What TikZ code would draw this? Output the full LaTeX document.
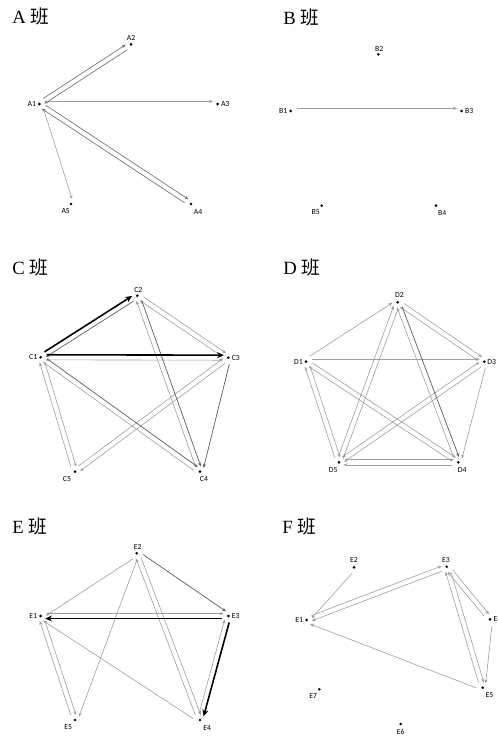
\documentclass[tikz,border=0pt]{standalone}
\usepackage{fontspec}
\setmainfont{Liberation Serif}
\newfontfamily\lblfont{Carlito}
\newfontfamily\cjkfont{Noto Sans CJK SC}
\usetikzlibrary{calc,arrows.meta}
\newcommand\eoff{1.9pt}
\newcommand\ed[3][]{\draw[ln,#1] ($(#2)!\eoff!90:(#3)$) -- ($(#3)!\eoff!-90:(#2)$);}
\newcommand\vtx[4]{\node[dot] (#1) at (#2) {}; \node[lbl] (l#1) at ($(#1)+(#3)$) {#4};}
\begin{document}
\begin{tikzpicture}[x=0.75pt,y=-0.75pt,
 dot/.style={circle,fill=black,inner sep=0pt,minimum size=2.2pt},
 lbl/.style={font={\lblfont\fontsize{5.8}{7}\selectfont},inner sep=0pt},
 ttl/.style={font={\fontsize{14}{16}\selectfont},anchor=base west,inner sep=0pt},
 ln/.style={-{Stealth[length=3pt,width=2.4pt]},shorten <=4.5pt,shorten >=3.4pt},
 lt/.style={draw=black!38,line width=0.45pt},
 md/.style={draw=black!55,line width=0.5pt},
 dk/.style={draw=black!62,line width=0.55pt},
 bk/.style={draw=black,line width=1.2pt,-{Stealth[length=5pt,width=4.5pt]}}]
\useasboundingbox (0,0) rectangle (497,737);

% titles
\node[ttl] (tA) at (12,24) {A {\cjkfont 班}};
\node[ttl] (tB) at (283,24.5) {B {\cjkfont 班}};
\node[ttl] (tC) at (12,275) {C {\cjkfont 班}};
\node[ttl] (tD) at (283,275) {D {\cjkfont 班}};
\node[ttl] (tE) at (12,533) {E {\cjkfont 班}};
\node[ttl] (tF) at (282,533) {F {\cjkfont 班}};

% ---- A ----
\vtx{A1}{39.3,104}{-7.5,0}{A1}
\vtx{A2}{131,44.3}{0,-6}{A2}
\vtx{A3}{217.7,104}{7.5,0}{A3}
\vtx{A4}{191,204}{7,7.7}{A4}
\vtx{A5}{71,204}{-5.3,7}{A5}
\ed[md]{A1}{A2}
\ed[md]{A2}{A1}
\ed[lt]{A1}{A3}
\ed[md]{A1}{A4}
\ed[md]{A4}{A1}
\ed[lt]{A1}{A5}

% ---- B ----
\vtx{B1}{290.7,111}{-7.5,0}{B1}
\vtx{B2}{378.3,54.3}{1,-5.5}{B2}
\vtx{B3}{461.7,111}{7.5,0}{B3}
\vtx{B4}{436,205.7}{6.3,7}{B4}
\vtx{B5}{321.7,205.7}{-6,6}{B5}
\ed[lt]{B1}{B3}

% ---- C ----
\vtx{C1}{40.7,357.3}{-7.5,0}{C1}
\vtx{C2}{137.3,295.7}{1,-6}{C2}
\vtx{C3}{228.3,357.7}{7.5,0}{C3}
\vtx{C4}{200,471.7}{4,7.7}{C4}
\vtx{C5}{75,471.7}{-8,7.7}{C5}
\ed[lt]{C3}{C1}
\ed[lt]{C2}{C3}
\ed[lt]{C3}{C2}
\ed[lt]{C4}{C2}
\ed[lt]{C4}{C1}
\ed[lt]{C3}{C5}
\ed[lt]{C5}{C3}
\ed[lt]{C1}{C5}
\ed[lt]{C5}{C1}
\ed[dk]{C2}{C1}
\ed[dk]{C2}{C4}
\ed[dk]{C3}{C4}
\ed[dk]{C1}{C4}
\ed[bk]{C1}{C2}
\ed[bk]{C1}{C3}

% ---- D ----
\vtx{D1}{306,361.7}{-7.5,0}{D1}
\vtx{D2}{397.7,302.3}{1.7,-7}{D2}
\vtx{D3}{484.3,361.7}{7.5,0}{D3}
\vtx{D4}{458.3,462.3}{4,7.7}{D4}
\vtx{D5}{339,462.3}{-5.7,7.7}{D5}
\ed[lt]{D1}{D2}
\ed[lt]{D2}{D3}
\ed[lt]{D3}{D2}
\ed[lt]{D1}{D3}
\ed[lt]{D3}{D4}
\ed[lt]{D4}{D2}
\ed[lt]{D2}{D5}
\ed[lt]{D5}{D2}
\ed[lt]{D1}{D4}
\ed[lt]{D4}{D1}
\ed[lt]{D3}{D5}
\ed[lt]{D5}{D3}
\ed[lt]{D1}{D5}
\ed[lt]{D5}{D1}
\ed[lt]{D4}{D5}
\ed[lt]{D5}{D4}
\ed[dk]{D2}{D4}

% ---- E ----
\vtx{E1}{40.7,616}{-7.5,0}{E1}
\vtx{E2}{136.7,553.3}{1,-6}{E2}
\vtx{E3}{228.3,616}{7.5,0}{E3}
\vtx{E4}{200,720}{7.3,8}{E4}
\vtx{E5}{75,720}{-6.7,7.3}{E5}
\ed[lt]{E2}{E1}
\ed[lt]{E1}{E3}
\ed[lt]{E2}{E4}
\ed[lt]{E4}{E2}
\ed[lt]{E2}{E5}
\ed[lt]{E4}{E3}
\ed[lt]{E1}{E5}
\ed[lt]{E5}{E1}
\ed[lt]{E4}{E1}
\ed[dk]{E2}{E3}
\ed[bk]{E3}{E1}
\ed[bk]{E3}{E4}

% ---- F ----
\vtx{F1}{306.7,620}{-7.5,0}{E1}
\vtx{F2}{354,567.3}{0,-7}{E2}
\vtx{F3}{446.7,566.7}{-0.7,-6.7}{E3}
\vtx{F4}{490,619.3}{7.5,0}{E4}
\vtx{F5}{482.7,687.7}{6.7,7.3}{E5}
\vtx{F6}{400.7,724}{0,8.3}{E6}
\vtx{F7}{319.3,689.3}{-6,6.3}{E7}
\ed[lt]{F2}{F1}
\ed[lt]{F1}{F3}
\ed[lt]{F3}{F1}
\ed[lt]{F5}{F1}
\ed[lt]{F3}{F5}
\ed[lt]{F5}{F3}
\ed[lt]{F3}{F4}
\ed[lt]{F4}{F3}
\ed[lt]{F4}{F5}
\end{tikzpicture}
\end{document}
